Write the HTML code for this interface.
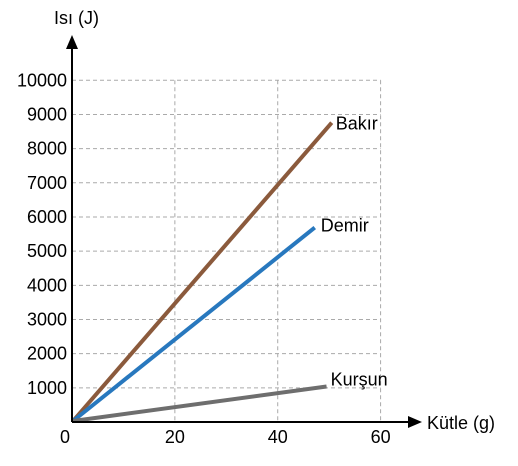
<!DOCTYPE html>
<html><head><meta charset="utf-8"><style>
html,body{margin:0;padding:0;background:#fff;}
svg{display:block;font-family:"Liberation Sans",sans-serif;}
</style></head><body>
<svg id="chart" width="518" height="466" viewBox="0 0 518 466">
<g id="grid"></g>
<g id="ticks"></g>
<g id="series"></g>
<line x1="72" y1="422" x2="72" y2="45" stroke="#000" stroke-width="2"/>
<polygon points="72,35 66,49 78,49" fill="#000"/>
<line x1="72" y1="422" x2="410" y2="422" stroke="#000" stroke-width="2"/>
<polygon points="422,422 408,416 408,428" fill="#000"/>
<text x="54" y="24" font-size="18">Isı (J)</text>
<text x="427" y="429" font-size="18">Kütle (g)</text>
</svg>
<script>
const xTicks=[0,20,40,60];
const yTicks=[1000,2000,3000,4000,5000,6000,7000,8000,9000,10000];
const seriesNames=["Bakır","Demir","Kurşun"];
const seriesColors=["#8B5A3C","#2878BE","#6E6E6E"];
const seriesMass=[50.5,47.2,49.5];
const seriesHeat=[8760,5690,1040];
const NS="http://www.w3.org/2000/svg";
const X=v=>72+v*5.143;
const Y=v=>422-v*0.03417;
function mk(tag,attrs,parent){const e=document.createElementNS(NS,tag);for(const k in attrs)e.setAttribute(k,attrs[k]);parent.appendChild(e);return e;}
const grid=document.getElementById('grid'),ticks=document.getElementById('ticks'),series=document.getElementById('series');
yTicks.forEach(v=>{
 const l=mk('line',{x1:72,x2:X(60),y1:Y(v),y2:Y(v),stroke:'#aaa','stroke-dasharray':'4,3','stroke-width':1},grid);
 
 
 const t=mk('text',{x:67,y:Y(v)+6,'text-anchor':'end','font-size':18},ticks);
 t.textContent=v;
 
 
});
xTicks.forEach(v=>{
 if(v>0){const l=mk('line',{x1:X(v),x2:X(v),y1:Y(10000),y2:422,stroke:'#aaa','stroke-dasharray':'4,3','stroke-width':1},grid);
 
 }
 const t=mk('text',{x:v===0?65:X(v),y:443,'text-anchor':'middle','font-size':18},ticks);
 t.textContent=v;
 
 
});
const labelOff=[[4,2],[6,-1],[4,-6]];
seriesNames.forEach((n,i)=>{
 const l=mk('line',{x1:X(0)+1,y1:Y(0)-1,x2:X(seriesMass[i]),y2:Y(seriesHeat[i]),stroke:seriesColors[i],'stroke-width':4},series);
 
 
 const t=mk('text',{x:X(seriesMass[i])+labelOff[i][0],y:Y(seriesHeat[i])+labelOff[i][1]+5,'font-size':18},series);
 t.textContent=n;
 
 
});
</script>
</body></html>
